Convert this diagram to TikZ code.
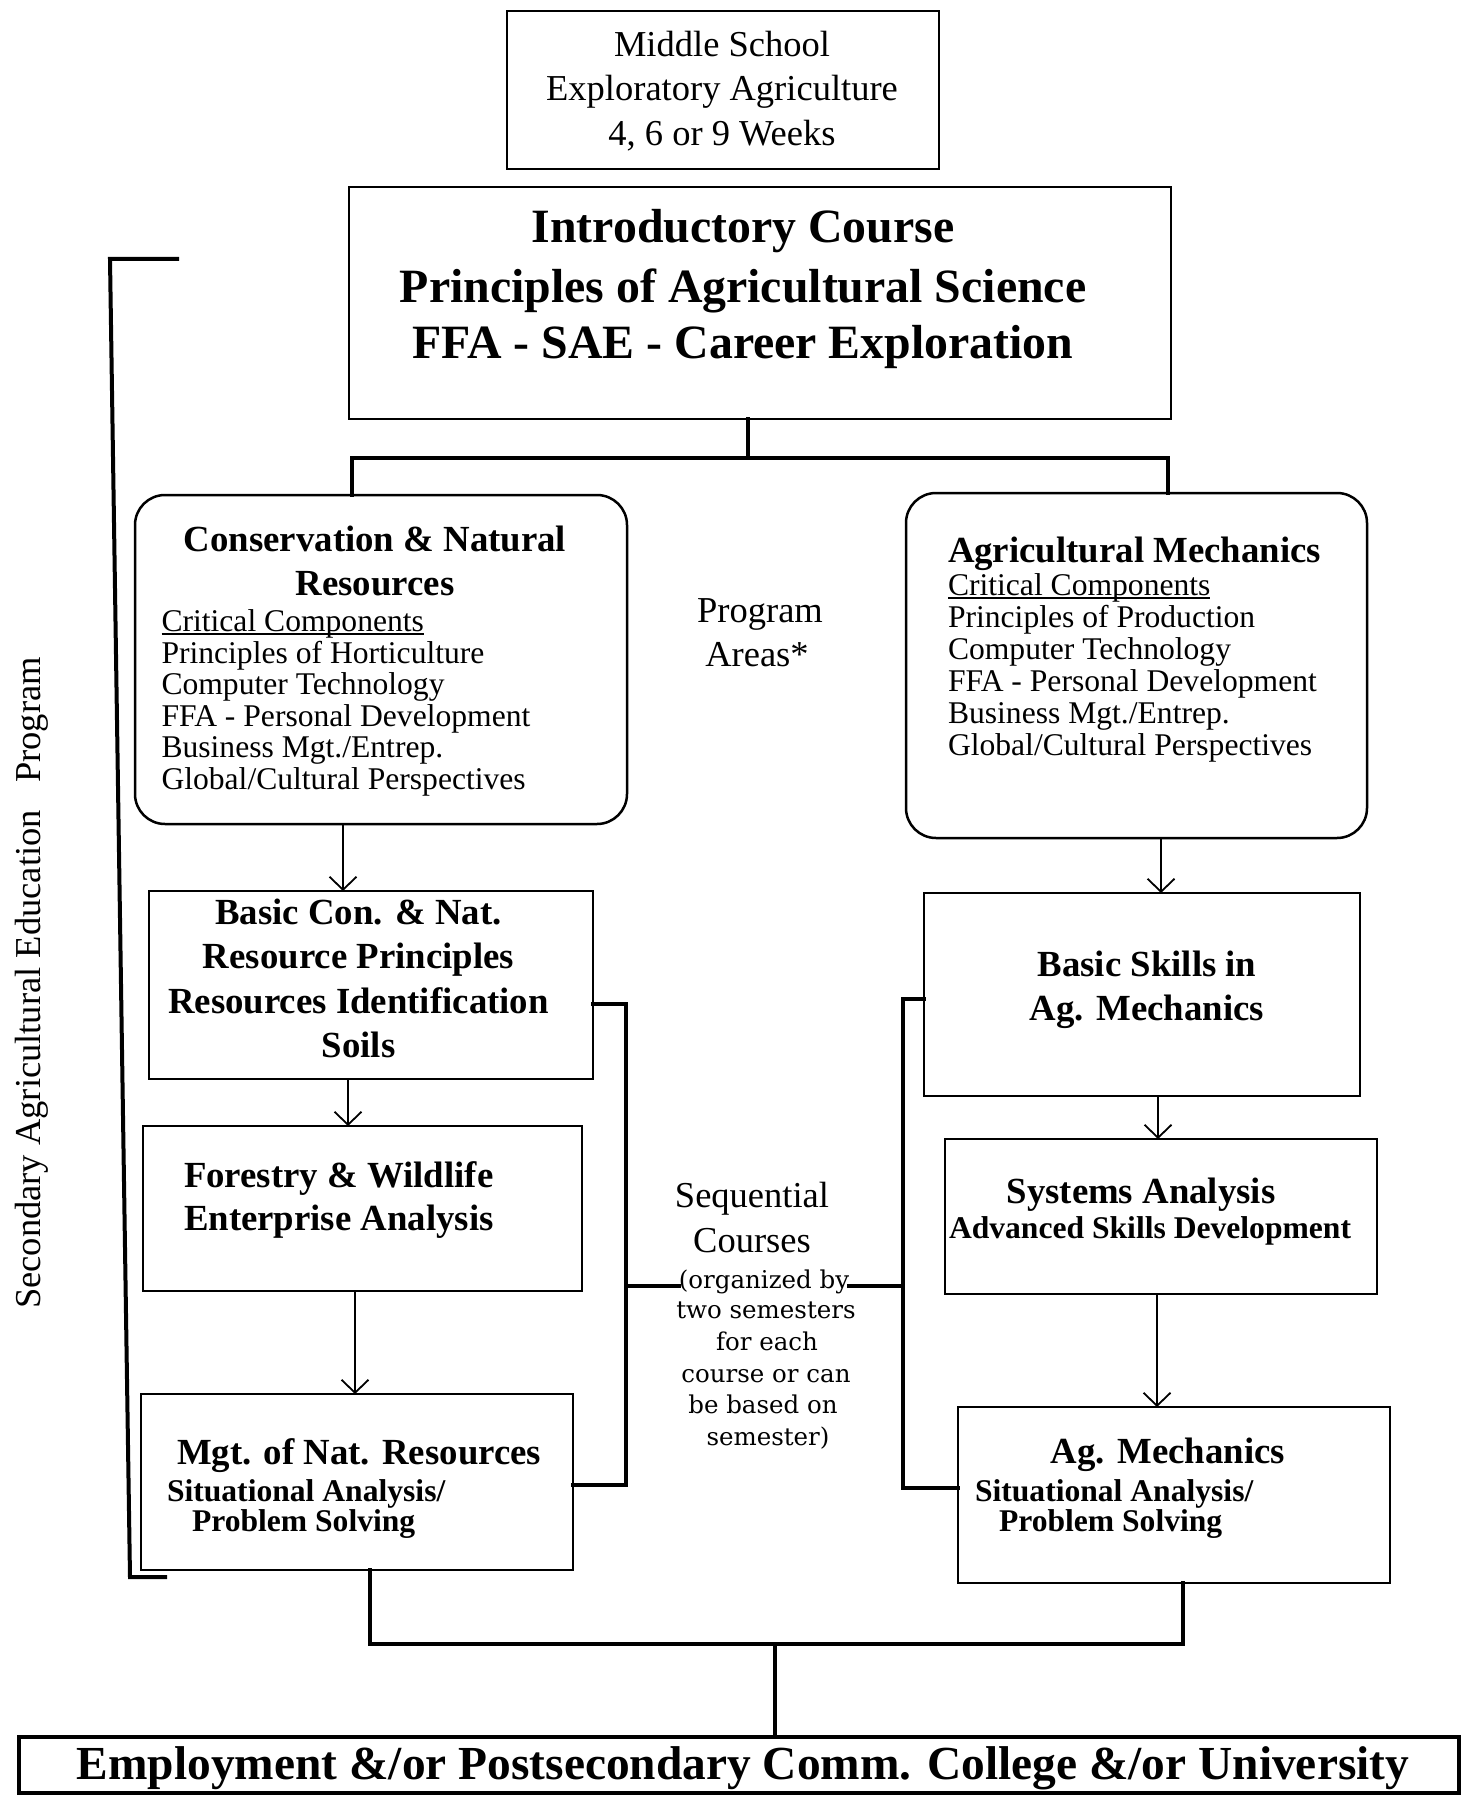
\documentclass[tikz,border=0pt]{standalone}
\usepackage{fontspec}
\setmainfont{Liberation Serif}
\newfontfamily\notefont{DejaVu Serif}
\usetikzlibrary{arrows.meta}

% underlined heading with a bar that crosses the descenders
\newcommand\ulbar[1]{\sbox0{#1}\rlap{\rule[-3.5pt]{\wd0}{1.6pt}}\usebox0}

% type sizes (1pt = 1 unit of the drawing)
\newcommand\szreg{\fontsize{36.5}{44}\selectfont}
\newcommand\szitem{\fontsize{31.6}{32}\selectfont}
\newcommand\szhead{\bfseries\fontsize{36.8}{44}\selectfont}
\newcommand\szsub{\bfseries\fontsize{31.6}{32}\selectfont}
\newcommand\szbig{\bfseries\fontsize{47.8}{57}\selectfont}
\newcommand\szfoot{\bfseries\fontsize{47.4}{57}\selectfont}
\newcommand\sznote{\notefont\fontsize{24.5}{31}\selectfont}

\tikzset{
  box/.style={draw, line width=2.5pt, inner sep=0pt, outer sep=0pt},
  rbox/.style={box, rounded corners=30pt},
  tree/.style={line width=4pt, line cap=rect, line join=miter},
  flow/.style={line width=1.8pt, -{Straight Barb[length=13pt,width=27pt]}},
  tc/.style={inner sep=0pt, outer sep=0pt, anchor=base},
  tw/.style={inner sep=0pt, outer sep=0pt, anchor=base west},
}

\begin{document}
\begin{tikzpicture}[x=1pt,y=-1pt]
\useasboundingbox (0,0) rectangle (1461,1795);

% ---------- boxes ----------
\node[box, minimum width=432pt, minimum height=158pt] (ms) at (723,90) {};
\node[box, minimum width=822pt, minimum height=232pt] (intro) at (760,303) {};
\node[rbox, minimum width=492pt, minimum height=329pt] (cnr) at (381,659.5) {};
\node[rbox, minimum width=461pt, minimum height=345pt] (agm) at (1136.5,665.5) {};
\node[box, minimum width=444pt, minimum height=188pt] (bcn) at (371,985) {};
\node[box, minimum width=439pt, minimum height=165pt] (fw) at (362.5,1208.5) {};
\node[box, minimum width=432pt, minimum height=176pt] (mgt) at (357,1482) {};
\node[box, minimum width=436pt, minimum height=203pt] (bs) at (1142,994.5) {};
\node[box, minimum width=432pt, minimum height=155pt] (sa) at (1161,1216.5) {};
\node[box, minimum width=432pt, minimum height=176pt] (am) at (1174,1495) {};
\node[box, line width=3.5pt, minimum width=1440pt, minimum height=56pt] (emp) at (739,1765) {};

% ---------- texts ----------
\node[tc, font=\szreg] (ms1) at (722,57) {Middle School};
\node[tc, font=\szreg] (ms2) at (722,101) {Exploratory Agriculture};
\node[tc, font=\szreg] (ms3) at (722,146) {4, 6 or 9 Weeks};

\node[tc, font=\szbig] (in1) at (743,243) {Introductory Course};
\node[tc, font=\szbig] (in2) at (743,302) {Principles of Agricultural Science};
\node[tc, font=\szbig] (in3) at (743,358) {FFA - SAE - Career Exploration};

\node[tc, font=\szhead] (cn1) at (375,551) {Conservation \& Natural};
\node[tc, font=\szhead] (cn2) at (375,595) {Resources};
\node[tw, font=\szitem] (cnU) at (161.5,631) {\ulbar{Critical Components}};
\foreach \txt [count=\i] in {Principles of Horticulture, Computer Technology,
    FFA - Personal Development, Business Mgt./Entrep., Global/Cultural Perspectives}
  \node[tw, font=\szitem] (cnI\i) at (161.5,{663+(\i-1)*31.5}) {\txt};

\node[tw, font=\szhead] (ag1) at (948,562) {Agricultural Mechanics};
\node[tw, font=\szitem] (agU) at (948,595) {\ulbar{Critical Components}};
\foreach \txt [count=\i] in {Principles of Production, Computer Technology,
    FFA - Personal Development, Business Mgt./Entrep., Global/Cultural Perspectives}
  \node[tw, font=\szitem] (agI\i) at (948,{627+(\i-1)*32}) {\txt};

\node[tc, font=\szreg] (pa1) at (760,622) {Program};
\node[tc, font=\szreg] (pa2) at (757,666) {Areas*};

\node[tc, font=\szhead] (bc1) at (358.5,924) {Basic Con. \& Nat.};
\node[tc, font=\szhead] (bc2) at (358.5,968) {Resource Principles};
\node[tc, font=\szhead] (bc3) at (358.5,1013) {Resources Identification};
\node[tc, font=\szhead] (bc4) at (358.5,1057) {Soils};

\node[tw, font=\szhead] (fw1) at (184,1187) {Forestry \& Wildlife};
\node[tw, font=\szhead] (fw2) at (184,1230) {Enterprise Analysis};

\node[tw, font=\szhead] (mg1) at (177,1464) {Mgt. of Nat. Resources};
\node[tw, font=\szsub] (mg2) at (167,1501) {Situational Analysis/};
\node[tw, font=\szsub] (mg3) at (192,1531) {Problem Solving};

\node[tc, font=\szhead] (bs1) at (1147,976) {Basic Skills in};
\node[tc, font=\szhead] (bs2) at (1147,1020) {Ag. Mechanics};

\node[tc, font=\szhead] (sa1) at (1141,1203) {Systems Analysis};
\node[tw, font=\szsub] (sa2) at (949,1238) {Advanced Skills Development};

\node[tc, font=\szhead] (am1) at (1168,1463) {Ag. Mechanics};
\node[tw, font=\szsub] (am2) at (975,1501) {Situational Analysis/};
\node[tw, font=\szsub] (am3) at (999,1531) {Problem Solving};

\node[tc, font=\szreg] (sq1) at (752,1207) {Sequential};
\node[tc, font=\szreg] (sq2) at (752,1252) {Courses};
\node[tc, font=\sznote] (sq3) at (764,1288) {(organized by};
\node[tc, font=\sznote] (sq4) at (766,1318) {two semesters};
\node[tc, font=\sznote] (sq5) at (767,1350) {for each};
\node[tc, font=\sznote] (sq6) at (766,1382) {course or can};
\node[tc, font=\sznote] (sq7) at (763,1413) {be based on};
\node[tc, font=\sznote] (sq8) at (768,1445) {semester)};

\node[tc, font=\szfoot] (em1) at (743,1779)
  {Employment \&/or Postsecondary Comm. College \&/or University};

\node[tc, font=\szreg, rotate=90] (side) at (40,983)
  {Secondary Agricultural Education\hspace{0.5em} Program};

% ---------- tree from the introductory course ----------
\coordinate (ts) at (748,458);
\coordinate (tl) at (352,458);
\coordinate (tr) at (1168,458);
\draw[tree] (intro.south -| ts) -- (ts);
\draw[tree] (cnr.north -| tl) -- (tl) -- (tr) -- (agm.north -| tr);

% ---------- course sequence arrows ----------
\coordinate (a1) at (343,0);
\coordinate (a2) at (348,0);
\coordinate (a3) at (355,0);
\coordinate (a4) at (1161,0);
\coordinate (a5) at (1158,0);
\coordinate (a6) at (1157,0);
\draw[flow] (cnr.south -| a1) -- (bcn.north -| a1);
\draw[flow] (bcn.south -| a2) -- (fw.north -| a2);
\draw[flow] (fw.south -| a3) -- (mgt.north -| a3);
\draw[flow] (agm.south -| a4) -- (bs.north -| a4);
\draw[flow] (bs.south -| a5) -- (sa.north -| a5);
\draw[flow] (sa.south -| a6) -- (am.north -| a6);

% ---------- sequential-course brackets ----------
\coordinate (lsA) at (626,1004);
\coordinate (lsM) at (626,1286);
\coordinate (lsB) at (626,1485);
\draw[tree] (bcn.east |- lsA) -- (lsA) -- (lsB) -- (mgt.east |- lsB);
\draw[tree, line width=3.5pt] (lsM) -- (sq3.west |- lsM);

\coordinate (rsA) at (903,999);
\coordinate (rsM) at (903,1286);
\coordinate (rsB) at (903,1488);
\draw[tree] (bs.west |- rsA) -- (rsA) -- (rsB) -- (am.west |- rsB);
\draw[tree, line width=3.5pt] (rsM) -- (sq3.east |- rsM);

% ---------- join to the final outcome ----------
\coordinate (jl) at (370,1644);
\coordinate (jr) at (1183,1644);
\coordinate (jm) at (775,1644);
\draw[tree] (mgt.south -| jl) -- (jl) -- (jr) -- (am.south -| jr);
\draw[tree] (jm) -- (emp.north -| jm);

% ---------- program bracket along the side label ----------
\coordinate (bk1) at (177,259);
\coordinate (bk2) at (110,259);
\coordinate (bk3) at (130,1577);
\coordinate (bk4) at (165,1577);
\draw[tree] (bk1) -- (bk2) -- (bk3) -- (bk4);
\end{tikzpicture}
\end{document}
